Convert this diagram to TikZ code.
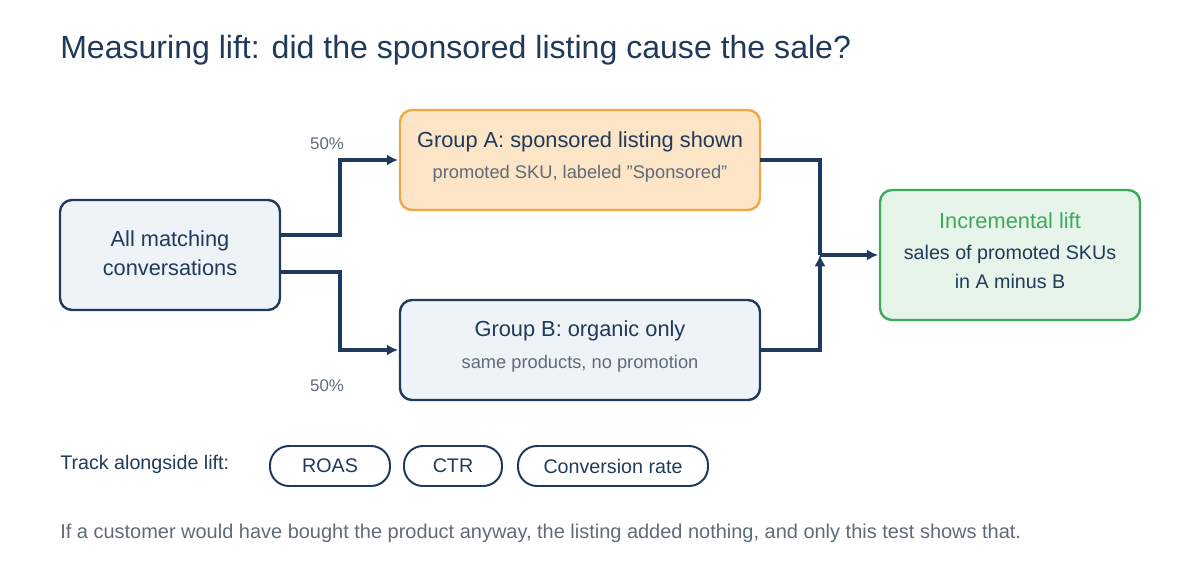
\documentclass[tikz,border=0pt]{standalone}
\usepackage{fontspec}
\setmainfont[Ligatures=ResetAll]{Liberation Sans}
\usetikzlibrary{arrows.meta}
\definecolor{navy}{HTML}{1F3A5A}
\definecolor{bluefill}{HTML}{EEF3F8}
\definecolor{orangefill}{HTML}{FCE4C6}
\definecolor{orangeline}{HTML}{F0A848}
\definecolor{greenfill}{HTML}{E7F4EA}
\definecolor{greenline}{HTML}{3DAA5B}
\definecolor{greytext}{HTML}{5F6B78}
\newlength\pxunit
\setlength\pxunit{0.025cm}
\tikzset{
  box/.style={draw=navy, fill=bluefill, line width=1.7pt, rounded corners=12\pxunit},
  pill/.style={draw=navy, line width=1.4pt, rounded corners=19\pxunit, minimum height=40\pxunit, font=\fontsize{14}{16}\selectfont, text=navy},
  flow/.style={draw=navy, line width=2.2pt, -{Latex[length=8pt,width=8pt]}},
  line/.style={draw=navy, line width=2.2pt}
}
\begin{document}
\begin{tikzpicture}[x=0.025cm,y=-0.025cm]
\useasboundingbox (0,0) rectangle (1200,580);
\node[anchor=west, inner sep=0, text=navy, font=\fontsize{22.8}{26}\selectfont] (title) at (60,50) {Measuring lift: did the sponsored listing cause the sale?};
% boxes
\draw[box] (60,200) rectangle (280,310);
\node[text=navy, align=center, font=\fontsize{15.5}{21}\selectfont] (all) at (170,253) {All matching\\conversations};
\draw[box, draw=orangeline, fill=orangefill] (400,110) rectangle (760,210);
\node[text=navy, font=\fontsize{15.5}{18}\selectfont] (a) at (580,142) {Group A: sponsored listing shown};
\node[text=greytext, font=\fontsize{13}{15}\selectfont] (asub) at (580,174) {promoted SKU, labeled "Sponsored"};
\draw[box] (400,300) rectangle (760,400);
\node[text=navy, font=\fontsize{15.5}{18}\selectfont] (b) at (580,331) {Group B: organic only};
\node[text=greytext, font=\fontsize{13}{15}\selectfont] (bsub) at (580,364) {same products, no promotion};
\draw[box, draw=greenline, fill=greenfill] (880,190) rectangle (1140,320);
\node[text=greenline, font=\fontsize{15.5}{18}\selectfont] (lift) at (1010,221) {Incremental lift};
\node[text=navy, align=center, font=\fontsize{14}{20.5}\selectfont] (liftsub) at (1010,267) {sales of promoted SKUs\\in A minus B};
% connectors
\coordinate (outa) at (280,235);
\coordinate (outb) at (280,272);
\coordinate (ina) at (398,160);
\coordinate (inb) at (398,350);
\coordinate (ra) at (760,160);
\coordinate (rb) at (760,350);
\coordinate (join) at (820,255);
\coordinate (inlift) at (878,255);
\draw[flow] (outa) -| (340,160) -- (ina);
\draw[flow] (outb) -| (340,350) -- (inb);
\draw[line] (ra) -| (join);
\draw[flow] (rb) -| (join);
\draw[flow] (join) -- (inlift);
\node[text=greytext, font=\fontsize{12}{14}\selectfont] (pa) at (327,144) {50\%};
\node[text=greytext, font=\fontsize{12}{14}\selectfont] (pb) at (327,386) {50\%};
% metrics
\node[anchor=west, inner sep=0, text=navy, font=\fontsize{14}{16}\selectfont] (track) at (60,464) {Track alongside lift:};
\node[pill, minimum width=120\pxunit] (roas) at (330,466) {ROAS};
\node[pill, minimum width=98\pxunit] (ctr) at (453,466) {CTR};
\node[pill, minimum width=190\pxunit] (conv) at (613,466) {Conversion rate};
\node[anchor=west, inner sep=0, text=greytext, font=\fontsize{14.2}{16}\selectfont] (foot) at (60,533) {If a customer would have bought the product anyway, the listing added nothing, and only this test shows that.};
\end{tikzpicture}
\end{document}
